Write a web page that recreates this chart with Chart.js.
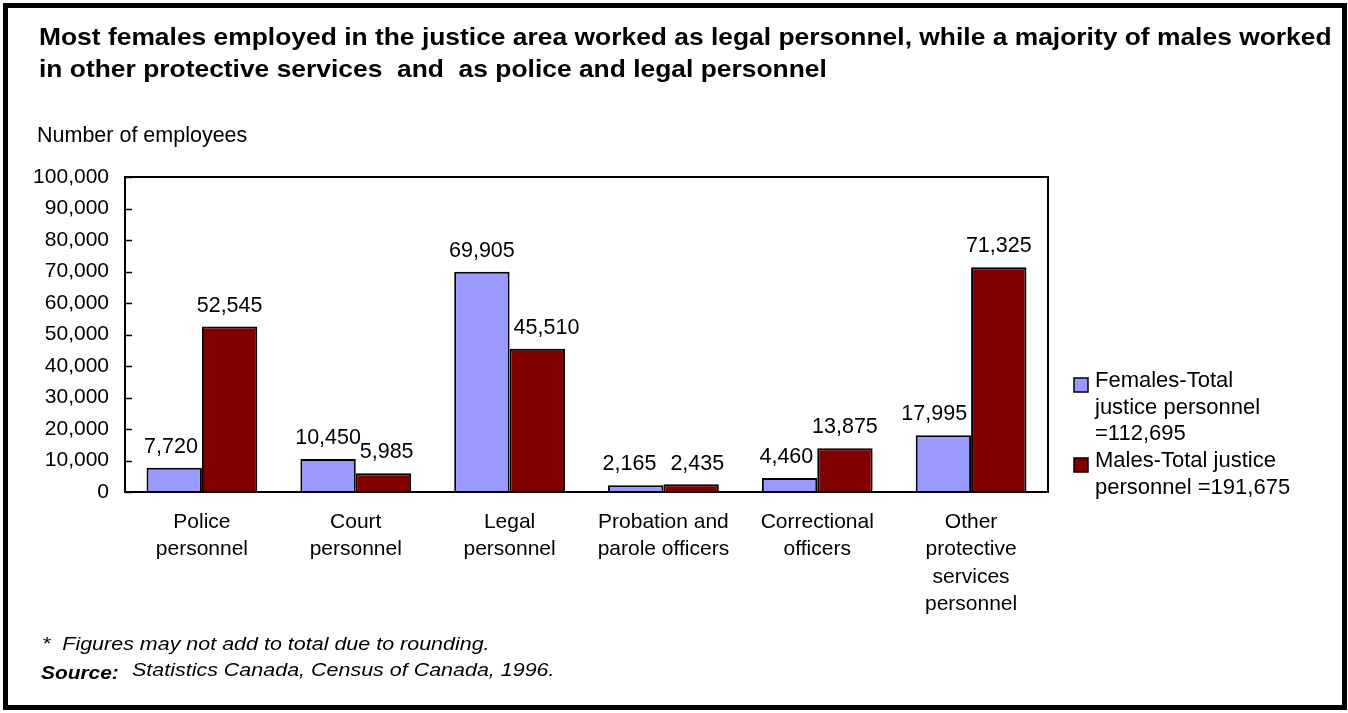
<!DOCTYPE html>
<html>
<head>
<meta charset="utf-8">
<script src="https://cdn.jsdelivr.net/npm/chart.js@4/dist/chart.umd.min.js"></script>
<style>
  html, body { margin: 0; padding: 0; background: #fff; }
  #wrap { position: relative; width: 1348px; height: 713px; }
  #frame { position: absolute; left: 3px; top: 3px; width: 1334px; height: 697px; border: 5px solid #000; pointer-events: none; }
  canvas { position: absolute; left: 0; top: 0; }
</style>
</head>
<body>
<div id="wrap">
  <canvas id="justiceChart" width="1348" height="713"></canvas>
  <div id="frame"></div>
</div>
<script>
const categories = [
  ['Police', 'personnel'],
  ['Court', 'personnel'],
  ['Legal', 'personnel'],
  ['Probation and', 'parole officers'],
  ['Correctional', 'officers'],
  ['Other', 'protective', 'services', 'personnel']
];
const females = [7720, 10450, 69905, 2165, 4460, 17995];
const males   = [52545, 5985, 45510, 2435, 13875, 71325];
const legendLabels = [
  ['Females-Total', 'justice personnel', '=112,695'],
  ['Males-Total justice', 'personnel =191,675']
];
const titleLines = [
  'Most females employed in the justice area worked as legal personnel, while a majority of males worked',
  'in other protective services  and  as police and legal personnel'
];
const yTitle = 'Number of employees';
const footnote = '*  Figures may not add to total due to rounding.';
const sourceText = 'Statistics Canada, Census of Canada, 1996.';

const FONT = '"Liberation Sans", Arial, sans-serif';
const fmt = (v) => v.toLocaleString('en-US');

// text drawn a little wider than the font's own proportions
function wideText(c, text, x, y, font, sx) {
  c.save();
  c.font = font;
  c.translate(x, y);
  c.scale(sx, 1);
  c.fillText(text, 0, 0);
  c.restore();
}

// titles, footnotes, plot box, inner ticks, value labels and the side legend
const extras = {
  id: 'extras',
  afterDatasetsDraw(chart) {
    const c = chart.ctx;
    const area = chart.chartArea;
    const yScale = chart.scales.y;
    c.save();

    // box round the plot
    c.strokeStyle = '#000';
    c.lineWidth = 2;
    c.strokeRect(area.left, area.top, area.right - area.left, area.bottom - area.top);

    // y ticks point into the plot
    c.lineWidth = 1.5;
    yScale.ticks.forEach((t) => {
      const py = Math.round(yScale.getPixelForValue(t.value)) + 0.5;
      c.beginPath();
      c.moveTo(area.left, py);
      c.lineTo(area.left + 7, py);
      c.stroke();
    });

    // values above the bars, kept clear of the taller neighbour bar
    // and of each other
    c.fillStyle = '#000';
    c.font = '21.5px ' + FONT;
    c.textAlign = 'center';
    c.textBaseline = 'bottom';
    const metaF = chart.getDatasetMeta(0).data;
    const metaM = chart.getDatasetMeta(1).data;
    metaF.forEach((barF, j) => {
      const barM = metaM[j];
      const tF = fmt(females[j]), tM = fmt(males[j]);
      const wF = c.measureText(tF).width, wM = c.measureText(tM).width;
      let xF = barF.x, xM = barM.x;
      const yF = barF.y - 10, yM = barM.y - 10;
      const leftM = barM.x - barM.width / 2;
      const rightF = barF.x + barF.width / 2;
      if (barM.y < yF && xF + wF / 2 > leftM - 4) xF = leftM - 4 - wF / 2;
      if (barF.y < yM && xM - wM / 2 < rightF + 4) xM = rightF + 4 + wM / 2;
      if (Math.abs(yF - yM) < 14) {
        const gap = (xM - wM / 2) - (xF + wF / 2);
        if (gap < 14) {
          xF -= (14 - gap) / 2;
          xM += (14 - gap) / 2;
        }
      }
      c.fillText(tF, xF, yF);
      c.fillText(tM, xM, yM);
    });

    // title
    c.textAlign = 'left';
    c.textBaseline = 'middle';
    wideText(c, titleLines[0], 39, 38, 'bold 24px ' + FONT, 1.1);
    wideText(c, titleLines[1], 39, 70, 'bold 24px ' + FONT, 1.1);

    c.font = '21.5px ' + FONT;
    c.fillText(yTitle, 37, 136);

    // footnotes
    wideText(c, footnote, 42, 645, 'italic 19px ' + FONT, 1.13);
    wideText(c, 'Source:', 41, 674, 'bold italic 19px ' + FONT, 1.1);
    wideText(c, sourceText, 132, 671, 'italic 19px ' + FONT, 1.13);

    // legend
    const firstLine = [381, 461];
    c.font = '22px ' + FONT;
    chart.data.datasets.forEach((ds, i) => {
      const ty = firstLine[i];
      c.fillStyle = ds.backgroundColor;
      c.fillRect(1074, ty - 3, 14, 14);
      c.strokeStyle = '#000';
      c.lineWidth = 1.5;
      c.strokeRect(1074, ty - 3, 14, 14);
      c.fillStyle = '#000';
      legendLabels[i].forEach((line, k) => {
        c.fillText(line, 1095, ty + k * 26.7);
      });
    });
    c.restore();
  }
};

new Chart(document.getElementById('justiceChart'), {
  type: 'bar',
  data: {
    labels: categories,
    datasets: [
      {
        label: 'Females',
        data: females,
        backgroundColor: '#9999FF',
        borderColor: '#000',
        borderWidth: 2,
        borderSkipped: 'bottom'
      },
      {
        label: 'Males',
        data: males,
        backgroundColor: '#800000',
        borderColor: '#000',
        borderWidth: 2,
        borderSkipped: 'bottom'
      }
    ]
  },
  options: {
    responsive: false,
    animation: false,
    devicePixelRatio: 1,
    layout: { padding: { left: 0, top: 177, right: 300, bottom: 81 } },
    datasets: { bar: { categoryPercentage: 0.72, barPercentage: 1.0 } },
    scales: {
      y: {
        min: 0,
        max: 100000,
        afterFit(scale) { scale.width = 125; },
        ticks: {
          stepSize: 10000,
          color: '#000',
          padding: 16,
          font: { family: FONT, size: 21 },
          callback: (v) => fmt(v)
        },
        grid: { display: false, drawTicks: false },
        border: { color: '#000', width: 2 }
      },
      x: {
        afterFit(scale) { scale.height = 140; },
        ticks: {
          color: '#000',
          padding: 17,
          maxRotation: 0,
          font: { family: FONT, size: 21, lineHeight: 1.29 }
        },
        grid: { display: false, drawTicks: false },
        border: { color: '#000', width: 2 }
      }
    },
    plugins: {
      legend: { display: false },
      tooltip: { enabled: false }
    }
  },
  plugins: [extras]
});
</script>
</body>
</html>
